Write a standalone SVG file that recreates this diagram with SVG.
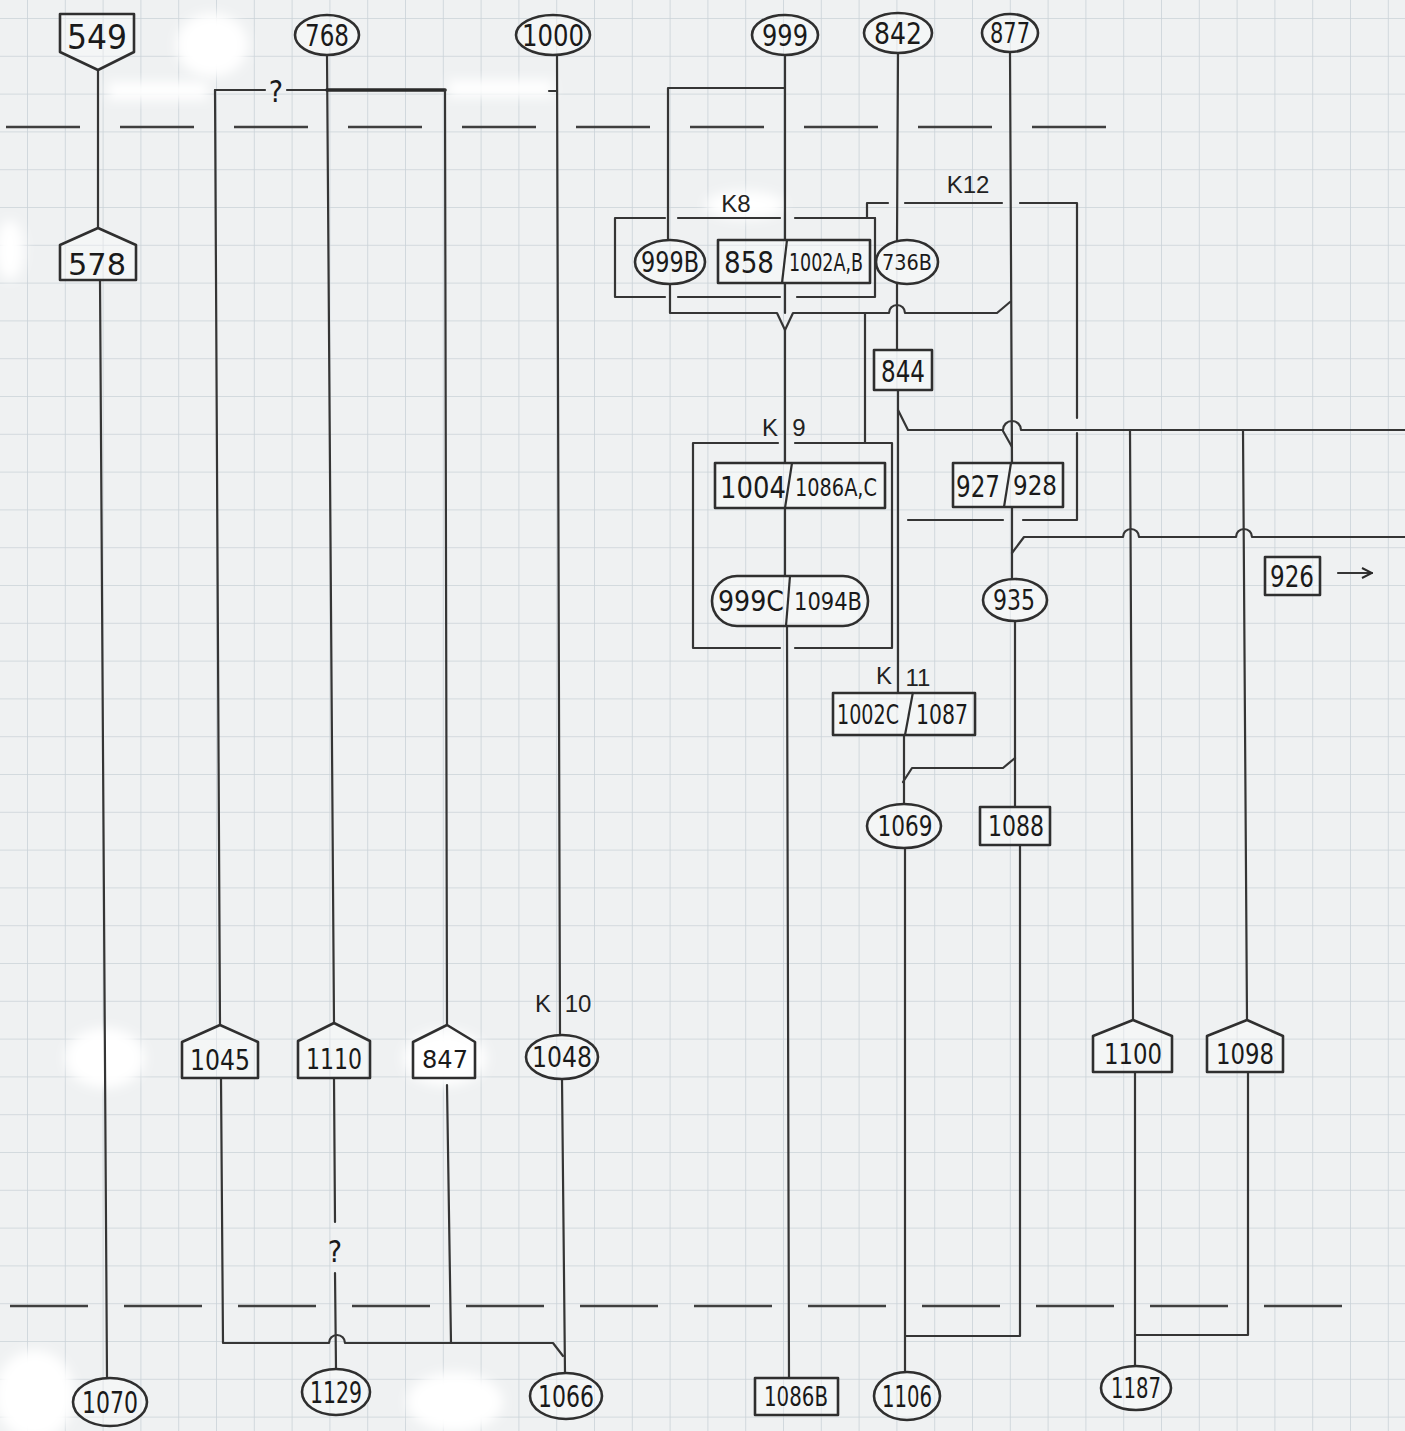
<svg xmlns="http://www.w3.org/2000/svg" width="1405" height="1431" viewBox="0 0 1405 1431">
<defs>
  <pattern id="grid" x="27" y="18" width="37.8" height="37.8" patternUnits="userSpaceOnUse">
    <path d="M0 0H37.8M0 0V37.8" fill="none" stroke="#cad2d8" stroke-width="1.6"/>
  </pattern>
  <filter id="soft" x="-50%" y="-50%" width="200%" height="200%">
    <feGaussianBlur stdDeviation="6"/>
  </filter>
  <marker id="arr" viewBox="0 0 12 12" refX="11" refY="6" markerWidth="12" markerHeight="12" markerUnits="userSpaceOnUse" orient="auto">
    <path d="M1 1L11 6L1 11" fill="none" stroke="#2a2a2a" stroke-width="2"/>
  </marker>
  <style>
    .ln{fill:none;stroke:#353535;stroke-width:2.2;stroke-linejoin:round;stroke-linecap:round}
    .thick{stroke-width:3.6;stroke:#2a2a2a}
    .dash{fill:none;stroke:#3f3f3f;stroke-width:2.4}
    .sh{fill:#ffffff;fill-opacity:0.35;stroke:#2f2f2f;stroke-width:2.6;stroke-linejoin:round}
    .dv{fill:none;stroke:#2f2f2f;stroke-width:2.2}
    .t{font-family:"Liberation Sans Narrow","DejaVu Sans Condensed","Liberation Sans",sans-serif;fill:#1a1a1a;text-anchor:middle}
    .k{font-family:"Liberation Sans","DejaVu Sans",sans-serif;fill:#222;text-anchor:middle;font-size:24px}
    .wb{fill:#ffffff;filter:url(#soft)}
  </style>
</defs>

<rect width="1405" height="1431" fill="#eff1f2"/>
<rect width="1405" height="1431" fill="url(#grid)"/>

<g id="paper-marks">
  <ellipse class="wb" cx="212" cy="45" rx="36" ry="32"/>
  <rect class="wb" x="108" y="82" width="100" height="18"/>
  <rect class="wb" x="448" y="80" width="105" height="17"/>
  <ellipse class="wb" cx="745" cy="205" rx="40" ry="14"/>
  <ellipse class="wb" cx="10" cy="250" rx="14" ry="30"/>
  <ellipse class="wb" cx="105" cy="1058" rx="40" ry="30"/>
  <ellipse class="wb" cx="445" cy="1058" rx="42" ry="28"/>
  <ellipse class="wb" cx="455" cy="1402" rx="48" ry="30"/>
  <ellipse class="wb" cx="35" cy="1395" rx="40" ry="45"/>
</g>

<g id="phase-lines">
  <path class="dash" d="M6 127H1112" stroke-dasharray="74 40"/>
  <path class="dash" d="M10 1306H1352" stroke-dasharray="78 36"/>
</g>

<g id="connectors">
  <path class="ln" d="M98 70V228"/>
  <path class="ln" d="M100 280L107 1378"/>
  <path class="ln" d="M327 55L334 1023"/>
  <path class="ln" d="M215 90H265M287 90H327"/>
  <path class="ln thick" d="M327 90H445"/>
  <path class="ln" d="M215 90L220 1025"/>
  <path class="ln" d="M445 90L447 1025"/>
  <path class="ln" d="M334 1078L335 1222M335 1273L336 1369"/>
  <path class="ln" d="M221 1078L223 1343H329A8 8 0 0 1 345 1343H553L563 1356"/>
  <path class="ln" d="M447 1085L451 1343"/>
  <path class="ln" d="M557 55L560 1035"/>
  <path class="ln" d="M549 91H557"/>
  <path class="ln" d="M562 1079L565 1373"/>
  <path class="ln" d="M785 55V240"/>
  <path class="ln" d="M668 88H785M668 88V240"/>
  <path class="ln" d="M665 218H615V297H665M678 218H780M795 218H875V297H797M678 297H780"/>
  <path class="ln" d="M875 218H867V203H888M905 203H1002M1020 203H1077V418M1077 433V520H1023M1003 520H908"/>
  <path class="ln" d="M898 53L897 240"/>
  <path class="ln" d="M670 284V313H777L785 330L793 313H889A8 8 0 0 1 905 313H997L1010 302"/>
  <path class="ln" d="M785 283V313"/>
  <path class="ln" d="M785 330V463"/>
  <path class="ln" d="M865 313V443"/>
  <path class="ln" d="M897 284V350"/>
  <path class="ln" d="M898 390V693"/>
  <path class="ln" d="M898 410L908 430H1003A9 9 0 0 1 1021 430H1405"/>
  <path class="ln" d="M1003 431L1012 447"/>
  <path class="ln" d="M1010 52L1012 463"/>
  <path class="ln" d="M1130 430L1133 1020"/>
  <path class="ln" d="M1243 430L1247 1020"/>
  <path class="ln" d="M1012 507V579"/>
  <path class="ln" d="M1012 553L1024 537H1123A8 8 0 0 1 1139 537H1236A8 8 0 0 1 1252 537H1405"/>
  <path class="ln" d="M1015 621V807"/>
  <path class="ln" d="M1015 758L1003 768H912L903 782"/>
  <path class="ln" d="M904 735V804"/>
  <path class="ln" d="M905 848V1372"/>
  <path class="ln" d="M905 1336H1020V845"/>
  <path class="ln" d="M1135 1072V1366"/>
  <path class="ln" d="M1135 1335H1248V1072"/>
  <path class="ln" d="M778 443H693V648H780M795 443H892V648H795"/>
  <path class="ln" d="M785 508V576"/>
  <path class="ln" d="M787 626L789 1378"/>
  <path class="ln" d="M1338 573H1372" marker-end="url(#arr)"/>
</g>

<g id="labels">
  <text class="t" x="276" y="102" font-size="30">?</text>
  <text class="t" x="335" y="1262" font-size="30">?</text>
  <text class="k" x="736" y="212">K8</text>
  <text class="k" x="968" y="193">K12</text>
  <text class="k" x="770" y="436">K</text>
  <text class="k" x="799" y="436">9</text>
  <text class="k" x="884" y="684">K</text>
  <text class="k" x="918" y="686">11</text>
  <text class="k" x="543" y="1012">K</text>
  <text class="k" x="578" y="1012">10</text>
</g>

<g id="n549"><path class="sh" d="M60 14H134V52L98 70L60 52Z"/><text class="t" x="97" y="49" font-size="34" textLength="60" lengthAdjust="spacingAndGlyphs">549</text></g>
<g id="n578"><path class="sh" d="M98 228L136 245V280H60V245Z"/><text class="t" x="97" y="275" font-size="30" textLength="58" lengthAdjust="spacingAndGlyphs">578</text></g>
<g id="n768"><ellipse class="sh" cx="327" cy="35" rx="32" ry="20"/><text class="t" x="327" y="46" font-size="30" textLength="44" lengthAdjust="spacingAndGlyphs">768</text></g>
<g id="n1000"><ellipse class="sh" cx="553" cy="35" rx="37" ry="20"/><text class="t" x="553" y="46" font-size="30" textLength="62" lengthAdjust="spacingAndGlyphs">1000</text></g>
<g id="n999"><ellipse class="sh" cx="785" cy="35" rx="33" ry="20"/><text class="t" x="785" y="46" font-size="30" textLength="46" lengthAdjust="spacingAndGlyphs">999</text></g>
<g id="n842"><ellipse class="sh" cx="898" cy="33" rx="34" ry="20"/><text class="t" x="898" y="44" font-size="30" textLength="48" lengthAdjust="spacingAndGlyphs">842</text></g>
<g id="n877"><ellipse class="sh" cx="1010" cy="33" rx="28" ry="19"/><text class="t" x="1010" y="43" font-size="28" textLength="40" lengthAdjust="spacingAndGlyphs">877</text></g>

<g id="n999B"><ellipse class="sh" cx="670" cy="262" rx="35" ry="22"/><text class="t" x="670" y="272" font-size="28" textLength="58" lengthAdjust="spacingAndGlyphs">999B</text></g>
<g id="n858-1002AB"><rect class="sh" x="718" y="240" width="152" height="43"/><path class="dv" d="M787 240L782 283"/><text class="t" x="749" y="273" font-size="30" textLength="50" lengthAdjust="spacingAndGlyphs">858</text><text class="t" x="826" y="271" font-size="24" textLength="74" lengthAdjust="spacingAndGlyphs">1002A,B</text></g>
<g id="n736B"><ellipse class="sh" cx="907" cy="262" rx="31" ry="22"/><text class="t" x="907" y="270" font-size="22" textLength="50" lengthAdjust="spacingAndGlyphs">736B</text></g>
<g id="n844"><rect class="sh" x="874" y="350" width="58" height="40"/><text class="t" x="903" y="382" font-size="30" textLength="44" lengthAdjust="spacingAndGlyphs">844</text></g>

<g id="n1004-1086AC"><rect class="sh" x="715" y="463" width="170" height="45"/><path class="dv" d="M792 463L785 508"/><text class="t" x="753" y="498" font-size="30" textLength="66" lengthAdjust="spacingAndGlyphs">1004</text><text class="t" x="836" y="496" font-size="24" textLength="82" lengthAdjust="spacingAndGlyphs">1086A,C</text></g>
<g id="n999C-1094B"><rect class="sh" x="712" y="576" width="156" height="50" rx="25"/><path class="dv" d="M790 576L786 626"/><text class="t" x="751" y="611" font-size="28" textLength="66" lengthAdjust="spacingAndGlyphs">999C</text><text class="t" x="828" y="610" font-size="24" textLength="68" lengthAdjust="spacingAndGlyphs">1094B</text></g>
<g id="n927-928"><rect class="sh" x="953" y="463" width="110" height="44"/><path class="dv" d="M1011 463L1004 507"/><text class="t" x="978" y="497" font-size="30" textLength="44" lengthAdjust="spacingAndGlyphs">927</text><text class="t" x="1035" y="495" font-size="26" textLength="44" lengthAdjust="spacingAndGlyphs">928</text></g>
<g id="n935"><ellipse class="sh" cx="1015" cy="600" rx="32" ry="21"/><text class="t" x="1014" y="610" font-size="28" textLength="42" lengthAdjust="spacingAndGlyphs">935</text></g>
<g id="n926"><rect class="sh" x="1265" y="557" width="55" height="38"/><text class="t" x="1292" y="587" font-size="30" textLength="44" lengthAdjust="spacingAndGlyphs">926</text></g>
<g id="n1002C-1087"><rect class="sh" x="833" y="693" width="142" height="42"/><path class="dv" d="M913 692L905 735"/><text class="t" x="868" y="724" font-size="26" textLength="62" lengthAdjust="spacingAndGlyphs">1002C</text><text class="t" x="942" y="724" font-size="26" textLength="52" lengthAdjust="spacingAndGlyphs">1087</text></g>
<g id="n1069"><ellipse class="sh" cx="904" cy="826" rx="37" ry="22"/><text class="t" x="905" y="836" font-size="28" textLength="55" lengthAdjust="spacingAndGlyphs">1069</text></g>
<g id="n1088"><rect class="sh" x="980" y="807" width="70" height="38"/><text class="t" x="1016" y="836" font-size="28" textLength="56" lengthAdjust="spacingAndGlyphs">1088</text></g>

<g id="n1045"><path class="sh" d="M220 1025L258 1042V1078H182V1042Z"/><text class="t" x="220" y="1070" font-size="28" textLength="60" lengthAdjust="spacingAndGlyphs">1045</text></g>
<g id="n1110"><path class="sh" d="M334 1023L370 1041V1078H298V1041Z"/><text class="t" x="334" y="1069" font-size="28" textLength="56" lengthAdjust="spacingAndGlyphs">1110</text></g>
<g id="n847"><path class="sh" d="M447 1025L475 1042V1078H413V1042Z"/><text class="t" x="445" y="1068" font-size="24" textLength="46" lengthAdjust="spacingAndGlyphs">847</text></g>
<g id="n1048"><ellipse class="sh" cx="562" cy="1057" rx="36" ry="22"/><text class="t" x="562" y="1067" font-size="28" textLength="60" lengthAdjust="spacingAndGlyphs">1048</text></g>
<g id="n1100"><path class="sh" d="M1133 1020L1172 1036V1072H1093V1036Z"/><text class="t" x="1133" y="1064" font-size="28" textLength="58" lengthAdjust="spacingAndGlyphs">1100</text></g>
<g id="n1098"><path class="sh" d="M1247 1020L1283 1036V1072H1207V1036Z"/><text class="t" x="1245" y="1064" font-size="28" textLength="58" lengthAdjust="spacingAndGlyphs">1098</text></g>

<g id="n1070"><ellipse class="sh" cx="110" cy="1402" rx="37" ry="24"/><text class="t" x="110" y="1413" font-size="30" textLength="56" lengthAdjust="spacingAndGlyphs">1070</text></g>
<g id="n1129"><ellipse class="sh" cx="336" cy="1392" rx="34" ry="23"/><text class="t" x="336" y="1403" font-size="30" textLength="52" lengthAdjust="spacingAndGlyphs">1129</text></g>
<g id="n1066"><ellipse class="sh" cx="566" cy="1396" rx="36" ry="23"/><text class="t" x="566" y="1407" font-size="30" textLength="56" lengthAdjust="spacingAndGlyphs">1066</text></g>
<g id="n1086B"><rect class="sh" x="755" y="1378" width="83" height="37"/><text class="t" x="796" y="1406" font-size="26" textLength="64" lengthAdjust="spacingAndGlyphs">1086B</text></g>
<g id="n1106"><ellipse class="sh" cx="907" cy="1396" rx="33" ry="24"/><text class="t" x="907" y="1407" font-size="30" textLength="50" lengthAdjust="spacingAndGlyphs">1106</text></g>
<g id="n1187"><ellipse class="sh" cx="1136" cy="1388" rx="35" ry="22"/><text class="t" x="1136" y="1398" font-size="28" textLength="50" lengthAdjust="spacingAndGlyphs">1187</text></g>
</svg>
